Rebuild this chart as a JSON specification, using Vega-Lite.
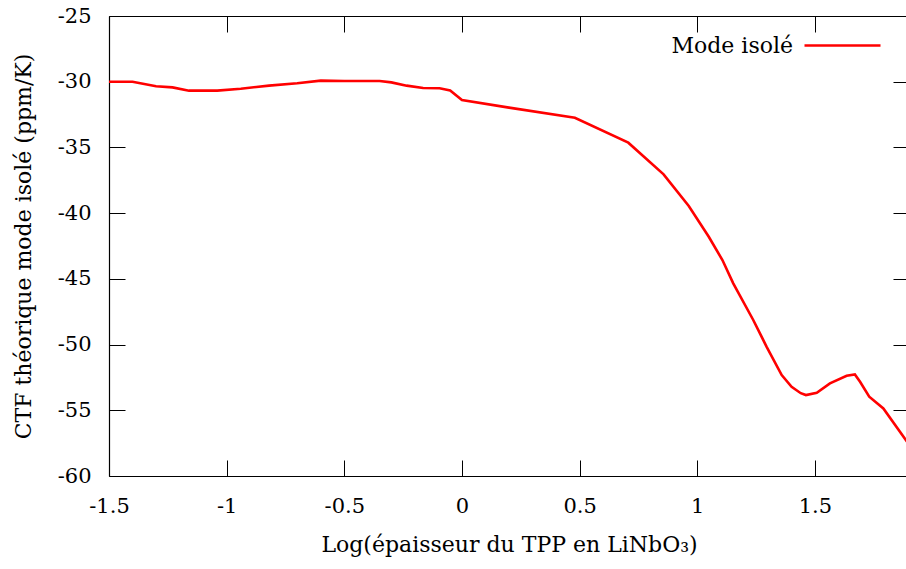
{
  "$schema": "https://vega.github.io/schema/vega-lite/v6.json",
  "autosize": {"type": "none"},
  "padding": {"left": 109, "top": 16, "right": 0, "bottom": 93},
  "width": 800,
  "height": 460,
  "background": "white",
  "config": {
    "view": {"stroke": null},
    "font": "DejaVu Serif",
    "axis": {
      "labelFont": "DejaVu Serif",
      "titleFont": "DejaVu Serif",
      "labelFontSize": 21,
      "titleFontSize": 22,
      "titleFontWeight": "normal",
      "labelColor": "black",
      "titleColor": "black",
      "domainColor": "black",
      "tickColor": "black",
      "domainWidth": 1.2,
      "tickWidth": 1,
      "tickSize": -16,
      "grid": false
    },
    "legend": {"labelFont": "DejaVu Serif", "labelFontSize": 22, "labelColor": "black"}
  },
  "data": {
    "values": [
      {"x": -1.5, "y": -30.0, "s": "Mode isolé"},
      {"x": -1.4, "y": -30.0, "s": "Mode isolé"},
      {"x": -1.3, "y": -30.35, "s": "Mode isolé"},
      {"x": -1.23, "y": -30.43, "s": "Mode isolé"},
      {"x": -1.16, "y": -30.68, "s": "Mode isolé"},
      {"x": -1.04, "y": -30.68, "s": "Mode isolé"},
      {"x": -0.94, "y": -30.53, "s": "Mode isolé"},
      {"x": -0.82, "y": -30.3, "s": "Mode isolé"},
      {"x": -0.7, "y": -30.12, "s": "Mode isolé"},
      {"x": -0.6, "y": -29.92, "s": "Mode isolé"},
      {"x": -0.5, "y": -29.95, "s": "Mode isolé"},
      {"x": -0.35, "y": -29.95, "s": "Mode isolé"},
      {"x": -0.3, "y": -30.05, "s": "Mode isolé"},
      {"x": -0.235, "y": -30.3, "s": "Mode isolé"},
      {"x": -0.165, "y": -30.48, "s": "Mode isolé"},
      {"x": -0.095, "y": -30.5, "s": "Mode isolé"},
      {"x": -0.05, "y": -30.66, "s": "Mode isolé"},
      {"x": 0.0, "y": -31.4, "s": "Mode isolé"},
      {"x": 0.2, "y": -31.97, "s": "Mode isolé"},
      {"x": 0.48, "y": -32.74, "s": "Mode isolé"},
      {"x": 0.707, "y": -34.64, "s": "Mode isolé"},
      {"x": 0.857, "y": -37.05, "s": "Mode isolé"},
      {"x": 0.964, "y": -39.46, "s": "Mode isolé"},
      {"x": 1.049, "y": -41.8, "s": "Mode isolé"},
      {"x": 1.107, "y": -43.57, "s": "Mode isolé"},
      {"x": 1.153, "y": -45.34, "s": "Mode isolé"},
      {"x": 1.238, "y": -48.13, "s": "Mode isolé"},
      {"x": 1.295, "y": -50.17, "s": "Mode isolé"},
      {"x": 1.359, "y": -52.32, "s": "Mode isolé"},
      {"x": 1.401, "y": -53.21, "s": "Mode isolé"},
      {"x": 1.44, "y": -53.7, "s": "Mode isolé"},
      {"x": 1.462, "y": -53.84, "s": "Mode isolé"},
      {"x": 1.508, "y": -53.67, "s": "Mode isolé"},
      {"x": 1.564, "y": -52.95, "s": "Mode isolé"},
      {"x": 1.635, "y": -52.37, "s": "Mode isolé"},
      {"x": 1.67, "y": -52.27, "s": "Mode isolé"},
      {"x": 1.692, "y": -52.83, "s": "Mode isolé"},
      {"x": 1.731, "y": -53.97, "s": "Mode isolé"},
      {"x": 1.791, "y": -54.86, "s": "Mode isolé"},
      {"x": 1.9, "y": -57.6, "s": "Mode isolé"}
    ]
  },
  "layer": [
    {
      "mark": {"type": "line", "strokeWidth": 2.6, "clip": true},
      "encoding": {
        "x": {
          "field": "x", "type": "quantitative",
          "scale": {"domain": [-1.5, 1.9], "nice": false, "zero": false},
          "axis": {
            "orient": "bottom",
            "title": "Log(épaisseur du TPP en LiNbO₃)",
            "values": [-1.5, -1, -0.5, 0, 0.5, 1, 1.5],
            "labelExpr": "replace(format(datum.value, '~g'), '−', '-')",
            "labelFont": "DejaVu Serif",
            "titleFont": "DejaVu Serif",
            "labelPadding": 35,
            "titlePadding": 18,
            "labelFlush": false
          }
        },
        "y": {
          "field": "y", "type": "quantitative",
          "scale": {"domain": [-60, -25], "nice": false, "zero": false},
          "axis": {
            "orient": "left",
            "title": "CTF théorique mode isolé (ppm/K)",
            "values": [-60, -55, -50, -45, -40, -35, -30, -25],
            "labelExpr": "replace(format(datum.value, '~g'), '−', '-')",
            "labelFont": "DejaVu Serif",
            "titleFont": "DejaVu Serif",
            "labelPadding": 34,
            "titlePadding": 22
          }
        },
        "color": {
          "field": "s", "type": "nominal",
          "scale": {"range": ["#ff0000"]},
          "legend": {
            "title": null,
            "orient": "none",
            "legendX": 694,
            "legendY": -10,
            "symbolType": "stroke",
            "symbolSize": 5776,
            "symbolStrokeWidth": 2.6,
            "labelAlign": "right",
            "labelOffset": -89
          }
        }
      }
    },
    {
      "mark": {"type": "line", "strokeOpacity": 0},
      "encoding": {
        "x": {
          "field": "x", "type": "quantitative",
          "axis": {"orient": "top", "title": null, "labels": false, "values": [-1.5, -1, -0.5, 0, 0.5, 1, 1.5]}
        },
        "y": {
          "field": "y", "type": "quantitative",
          "axis": {"orient": "right", "title": null, "labels": false, "values": [-60, -55, -50, -45, -40, -35, -30, -25]}
        }
      }
    }
  ],
  "resolve": {"axis": {"x": "independent", "y": "independent"}}
}
